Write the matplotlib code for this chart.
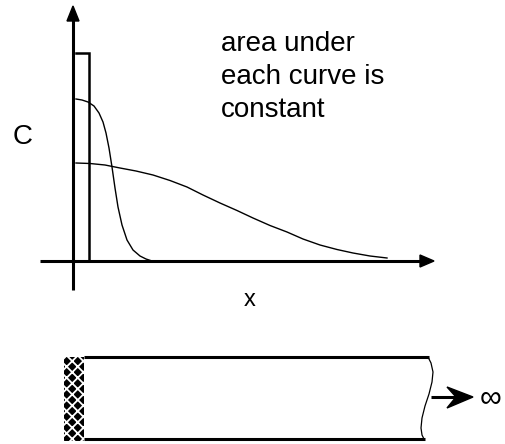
import matplotlib
matplotlib.use("Agg")
import matplotlib.pyplot as plt
from matplotlib.patches import Polygon, Rectangle

plt.rcParams['font.family'] = ['Liberation Sans', 'DejaVu Sans']
plt.rcParams['hatch.linewidth'] = 1.3

# ---- curve points (pixel units, y downward) ----
narrow_x = [76, 82, 88, 94, 99, 103, 106, 109, 112, 115, 118, 122, 127, 133, 140, 146, 152]
narrow_y = [99, 100, 102, 106, 113, 122, 133, 148, 167, 188, 207, 225, 240, 250, 256, 259, 261]

wide_x = [76, 90, 105, 120, 136, 153, 170, 187, 203, 220, 237, 253, 270, 287, 303, 320, 337, 353, 370, 387]
wide_y = [163, 163.5, 165, 168, 171, 175, 180.5, 187, 195, 203, 210.5, 218, 225.5, 232, 239, 245, 249.5, 253, 256, 258]

# initial slab profile
step_x = [76, 89, 89]
step_y = [53, 53, 261]

# wavy cut at the far end of the tube
wave_x = [428, 431, 433, 432, 429, 425, 422, 421, 422, 424]
wave_y = [357, 363, 372, 382, 394, 406, 418, 428, 435, 439]

note_lines = ["area under", "each curve is", "constant"]
note_baselines = [51, 84, 117]

fig = plt.figure(figsize=(5.05, 4.44), dpi=100)
ax = fig.add_axes([0, 0, 1, 1])
ax.set_xlim(0, 505)
ax.set_ylim(444, 0)
ax.axis("off")

LW = 2.2
# axes
ax.plot([73, 73], [290, 18], color="black", lw=LW, solid_capstyle="butt")
ax.add_patch(Polygon([[73, 6], [67, 21], [79, 21]], closed=True, color="black"))
ax.plot([40, 421], [261, 261], color="black", lw=LW, solid_capstyle="butt")
ax.add_patch(Polygon([[434, 261], [420, 255], [420, 267]], closed=True, color="black"))

# curves
ax.plot(step_x, step_y, color="black", lw=1.8, solid_joinstyle="miter")
ax.plot(narrow_x, narrow_y, color="black", lw=1.0)
ax.plot(wide_x, wide_y, color="black", lw=1.0)

# labels
for line, yb in zip(note_lines, note_baselines):
    ax.text(221, yb, line, fontsize=20, ha="left", va="baseline")
ax.text(23, 137, "C", fontsize=20, ha="center", va="center")
ax.text(250, 300, "x", fontsize=17, ha="center", va="center")

# tube
ax.add_patch(Rectangle((64, 357), 20, 84, facecolor="black", edgecolor="none"))
ax.add_patch(Rectangle((64, 357), 20, 84, facecolor="none", edgecolor="white",
                       hatch="xxx", lw=0))
ax.plot([84, 429], [357, 357], color="black", lw=LW, solid_capstyle="butt")
ax.plot([84, 425], [439, 439], color="black", lw=LW, solid_capstyle="butt")
ax.plot(wave_x, wave_y, color="black", lw=0.9)

# arrow to infinity
ax.plot([431, 456], [397, 397], color="black", lw=LW, solid_capstyle="butt")
ax.add_patch(Polygon([[473, 397], [447, 387], [456, 397], [447, 408]], closed=True,
                     color="black"))
ax.text(491, 398, "\u221e", fontsize=22, ha="center", va="center")

fig.savefig("out.png", dpi=100)
